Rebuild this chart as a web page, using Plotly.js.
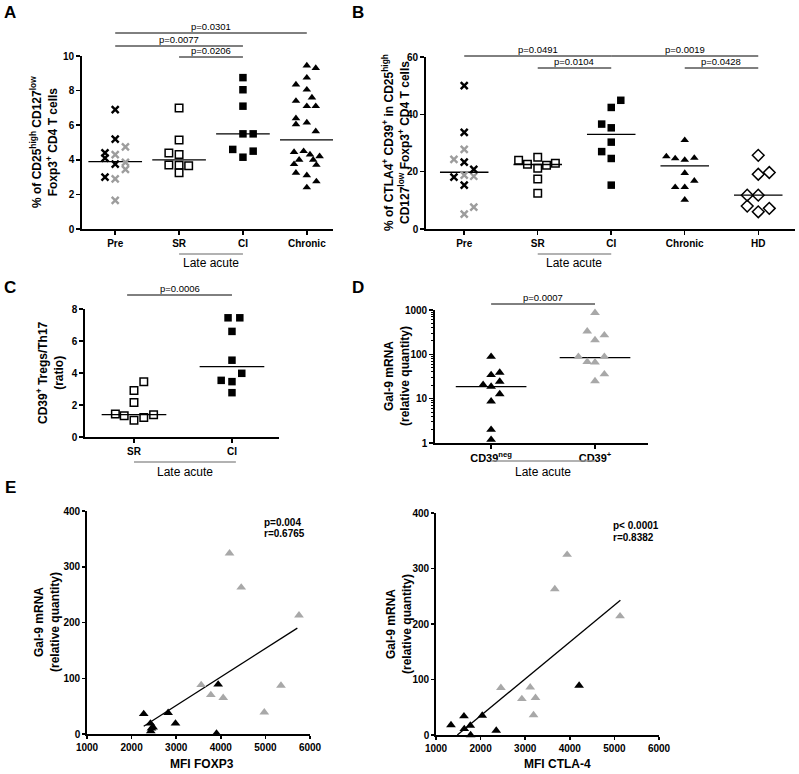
<!DOCTYPE html>
<html>
<head>
<meta charset="utf-8">
<script src="https://cdn.plot.ly/plotly-3.0.1.min.js"></script>
<style>
  html, body { margin: 0; padding: 0; background: #fff; }
  #fig { width: 799px; height: 774px; }
</style>
</head>
<body>
<div id="fig"></div>
<script>
// ---- A: % CD25high CD127low Foxp3+ of CD4 T cells ----
const aCats = ['Pre', 'SR', 'CI', 'Chronic'];
const aPreBlackDx = [0, 0, -0.16, -0.16, 0, -0.16];
const aPreBlackY  = [6.9, 5.2, 4.4, 4.1, 3.75, 3.0];
const aPreGreyDx  = [0.16, 0, 0.16, 0.16, 0, 0];
const aPreGreyY   = [4.75, 4.3, 3.85, 3.45, 2.9, 1.65];
const aSrDx = [0, 0, -0.16, 0, -0.16, 0, 0.15, 0];
const aSrY  = [7.0, 5.15, 4.4, 4.3, 3.7, 3.68, 3.65, 3.25];
const aCiDx = [0, 0, 0, 0, 0.16, -0.16, 0.16, 0];
const aCiY  = [8.75, 8.05, 7.1, 5.5, 5.5, 4.6, 4.5, 4.15];
const aChrDx = [0, 0.14, 0, -0.17, 0, 0.08, -0.17, 0, 0.14, -0.17, 0, -0.17, 0.14,
                -0.2, -0.05, 0.05, 0.2, -0.12, 0.1, -0.2, 0.15, -0.17, 0, 0.15, 0];
const aChrY  = [9.45, 9.3, 8.75, 8.35, 8.05, 7.6, 7.4, 7.1, 7.1, 6.4, 6.15, 6.05, 5.65,
                4.45, 4.5, 4.3, 4.2, 4.0, 4.0, 3.75, 3.7, 3.25, 3.1, 2.75, 2.4];
const aMedians = [3.9, 4.0, 5.5, 5.15];

// ---- B: % CTLA4+ CD39+ in Tregs ----
const bCats = ['Pre', 'SR', 'CI', 'Chronic', 'HD'];
const bPreBlackDx = [0, 0, 0, 0.13, -0.14, 0];
const bPreBlackY  = [50.0, 33.7, 23.3, 20.8, 18.1, 15.3];
const bPreGreyDx  = [0, -0.14, 0, 0.13, 0.13, 0];
const bPreGreyY   = [27.8, 24.3, 18.8, 18.4, 7.6, 5.2];
const bSrDx = [-0.26, -0.14, 0, 0, 0.12, 0.24, 0, 0];
const bSrY  = [24.0, 22.6, 25.0, 21.2, 22.2, 22.9, 17.4, 12.5];
const bCiDx = [0.13, 0, -0.13, 0, 0, -0.13, 0, 0];
const bCiY  = [44.9, 42.4, 36.6, 35.3, 30.3, 27.0, 24.6, 15.3];
const bChrDx = [0, -0.25, -0.13, 0, 0.13, 0, 0.13, -0.13, 0, 0];
const bChrY  = [31.0, 25.3, 24.6, 24.1, 24.8, 19.5, 16.8, 14.6, 14.6, 10.2];
const bHdDx = [0, 0, 0.15, -0.15, 0, -0.15, 0.15, 0];
const bHdY  = [25.7, 19.1, 19.7, 11.8, 11.8, 8.0, 7.2, 6.0];
const bMedians = [19.8, 22.5, 33.0, 22.0, 11.8];

// ---- C: CD39+ Tregs / Th17 ratio ----
const cCats = ['SR', 'CI'];
const cSrDx = [0.1, 0, 0, -0.19, -0.1, 0, 0.1, 0.2];
const cSrY  = [3.46, 2.9, 2.15, 1.43, 1.33, 1.04, 1.22, 1.39];
const cCiDx = [-0.04, 0.08, 0, 0, 0.1, -0.11, 0, 0];
const cCiY  = [7.45, 7.45, 6.6, 4.8, 3.98, 3.54, 3.46, 2.77];
const cMedians = [1.4, 4.4];

// ---- D: Gal-9 mRNA (log) ----
const dCats = ['CD39<sup>neg</sup>', 'CD39<sup>+</sup>'];
const dNegDx = [0, 0, 0.083, 0.083, -0.077, 0, 0.083, 0, 0, 0];
const dNegY  = [88.6, 34.4, 38.7, 24.3, 20.5, 18.7, 12.7, 8.7, 2.0, 1.19];
const dPosDx = [0, -0.075, 0.09, 0, -0.16, -0.075, 0, 0.09, 0.09, 0];
const dPosY  = [863, 330, 270, 210, 88.6, 68, 66, 88.6, 35.6, 25];
const dMedians = [18.7, 84];

// ---- E: Gal-9 mRNA vs MFI ----
const eFoxBlackX = [2272, 2422, 2445, 2482, 2430, 2819, 2984, 3941, 3904];
const eFoxBlackY = [36, 19, 10, 12, 5, 38, 19, 89, 1];
const eFoxGreyX  = [4196, 4458, 5753, 3560, 3777, 4054, 5349, 4975];
const eFoxGreyY  = [324, 263, 213, 88, 70, 65, 87, 39];
const eFoxFitX = [2272, 5716];
const eFoxFitY = [14, 190];

const eCtlaBlackX = [1336, 1627, 1634, 1769, 1776, 2037, 2351, 4209];
const eCtlaBlackY = [18, 34, 11, 17, 0, 35, 8, 89];
const eCtlaGreyX  = [3940, 3664, 5127, 2455, 3112, 2925, 3231, 3187];
const eCtlaGreyY  = [325, 263, 214, 85, 86, 65, 67, 36];
const eCtlaFitX = [1478, 5134];
const eCtlaFitY = [0, 243];

const W = 799, H = 774;
const FONT = 'Arial, "Liberation Sans", Helvetica, sans-serif';
const GREY = '#9d9d9d';
const px = v => v / W;          // pixel -> paper x
const py = v => 1 - v / H;      // pixel -> paper y

// marker styles
const crossBlack = { symbol: 'x-thin', size: 7, color: '#000', line: { width: 2.4, color: '#000' } };
const crossGrey  = { symbol: 'x-thin', size: 7, color: GREY, line: { width: 2.4, color: GREY } };
const sqOpen  = { symbol: 'square-open', size: 7.5, color: '#000', line: { width: 1.5 } };
const sqFill  = { symbol: 'square', size: 7.5, color: '#000' };
const triBlack = { symbol: 'triangle-up', size: 7.5, color: '#000' };
const triBlackE = { symbol: 'triangle-up', size: 8.5, color: '#000' };
const triGrey  = { symbol: 'triangle-up', size: 8.5, color: '#a8a8a8' };
const diaOpen = { symbol: 'diamond-open', size: 9, color: '#000', line: { width: 1.5 } };

function pts(xa, ya, cat, dx, y, marker) {
    return { type: 'scatter', mode: 'markers', x: dx.map(d => cat + d), y: y,
             xaxis: xa, yaxis: ya, marker: marker, cliponaxis: false, hoverinfo: 'skip' };
}
function xy(xa, ya, x, y, marker) {
    return { type: 'scatter', mode: 'markers', x: x, y: y,
             xaxis: xa, yaxis: ya, marker: marker, cliponaxis: false, hoverinfo: 'skip' };
}
function medians(xa, ya, meds, hw) {
    return meds.map((m, i) => ({ type: 'scatter', mode: 'lines', x: [i - hw, i + hw], y: [m, m],
        xaxis: xa, yaxis: ya, line: { color: '#000', width: 1.3 }, hoverinfo: 'skip' }));
}

const traces = [
    ...medians('x', 'y', aMedians, 0.42),
    pts('x', 'y', 0, aPreGreyDx, aPreGreyY, crossGrey),
    pts('x', 'y', 0, aPreBlackDx, aPreBlackY, crossBlack),
    pts('x', 'y', 1, aSrDx, aSrY, sqOpen),
    pts('x', 'y', 2, aCiDx, aCiY, sqFill),
    pts('x', 'y', 3, aChrDx, aChrY, triBlack),

    ...medians('x2', 'y2', bMedians, 0.33),
    pts('x2', 'y2', 0, bPreGreyDx, bPreGreyY, crossGrey),
    pts('x2', 'y2', 0, bPreBlackDx, bPreBlackY, crossBlack),
    pts('x2', 'y2', 1, bSrDx, bSrY, sqOpen),
    pts('x2', 'y2', 2, bCiDx, bCiY, sqFill),
    pts('x2', 'y2', 3, bChrDx, bChrY, triBlack),
    pts('x2', 'y2', 4, bHdDx, bHdY, diaOpen),

    ...medians('x3', 'y3', cMedians, 0.33),
    pts('x3', 'y3', 0, cSrDx, cSrY, sqOpen),
    pts('x3', 'y3', 1, cCiDx, cCiY, sqFill),

    ...medians('x4', 'y4', dMedians, 0.34),
    pts('x4', 'y4', 0, dNegDx, dNegY, triBlackE),
    pts('x4', 'y4', 1, dPosDx, dPosY, triGrey),

    { type: 'scatter', mode: 'lines', x: eFoxFitX, y: eFoxFitY, xaxis: 'x5', yaxis: 'y5',
      line: { color: '#000', width: 1.3 }, hoverinfo: 'skip' },
    xy('x5', 'y5', eFoxGreyX, eFoxGreyY, triGrey),
    xy('x5', 'y5', eFoxBlackX, eFoxBlackY, triBlackE),

    { type: 'scatter', mode: 'lines', x: eCtlaFitX, y: eCtlaFitY, xaxis: 'x6', yaxis: 'y6',
      line: { color: '#000', width: 1.3 }, hoverinfo: 'skip' },
    xy('x6', 'y6', eCtlaGreyX, eCtlaGreyY, triGrey),
    xy('x6', 'y6', eCtlaBlackX, eCtlaBlackY, triBlackE)
];

const axBase = {
    showgrid: false, zeroline: false, showline: true, linecolor: '#000', linewidth: 1.8,
    ticks: 'outside', ticklen: 4, tickwidth: 1.5, tickcolor: '#000',
    tickfont: { family: FONT, size: 10, color: '#000', weight: 'bold' }, fixedrange: true
};

// minor ticks on the log axis of D
const logMinor = [];
[1, 10, 100].forEach(dec => { for (let k = 2; k <= 9; k++) logMinor.push(k * dec); });

const layout = {
    width: W, height: H,
    margin: { l: 0, r: 0, t: 0, b: 0 },
    paper_bgcolor: '#fff', plot_bgcolor: 'rgba(0,0,0,0)',
    showlegend: false,
    font: { family: FONT, color: '#000' },

    xaxis:  { ...axBase, anchor: 'y',  domain: [px(82), px(333)], range: [-0.52, 3.41], tickvals: [0, 1, 2, 3], ticktext: aCats },
    yaxis:  { ...axBase, anchor: 'x',  domain: [py(229), py(56)], range: [0, 10], dtick: 2 },
    xaxis2: { ...axBase, anchor: 'y2', domain: [px(426), px(795)], range: [-0.52, 4.5], tickvals: [0, 1, 2, 3, 4], ticktext: bCats },
    yaxis2: { ...axBase, anchor: 'x2', domain: [py(229), py(57)], range: [0, 60], dtick: 20 },
    xaxis3: { ...axBase, anchor: 'y3', domain: [px(85), px(279)], range: [-0.5, 1.48], tickvals: [0, 1], ticktext: cCats },
    yaxis3: { ...axBase, anchor: 'x3', domain: [py(437), py(309)], range: [0, 8], dtick: 2 },
    xaxis4: { ...axBase, anchor: 'y4', domain: [px(435), px(648)], range: [-0.54, 1.51], tickvals: [0, 1], ticktext: dCats,
              tickfont: { family: FONT, size: 11, color: '#000', weight: 'bold' } },
    yaxis4: { ...axBase, anchor: 'x4', domain: [py(443), py(310)], type: 'log', range: [0, 3],
              tickmode: 'array', tickvals: [1, 10, 100, 1000], ticktext: ['1', '10', '100', '1000'],
              minor: { tickmode: 'array', tickvals: logMinor, ticks: 'outside', ticklen: 2.5, tickwidth: 1, tickcolor: '#000', showgrid: false } },
    xaxis5: { ...axBase, anchor: 'y5', domain: [px(87), px(310)], range: [1000, 6000], dtick: 1000, ticklen: 3 },
    yaxis5: { ...axBase, anchor: 'x5', domain: [py(734), py(511)], range: [0, 400], dtick: 100, ticklen: 3 },
    xaxis6: { ...axBase, anchor: 'y6', domain: [px(436), px(659)], range: [1000, 6000], dtick: 1000, ticklen: 3 },
    yaxis6: { ...axBase, anchor: 'x6', domain: [py(735), py(513)], range: [0, 400], dtick: 100, ticklen: 3 },

    shapes: [],
    annotations: []
};

// helper for free text placed by its centre in page pixels
function label(x, y, text, font, extra) {
    layout.annotations.push(Object.assign({ xref: 'paper', yref: 'paper', x: px(x), y: py(y),
        xanchor: 'center', yanchor: 'middle', text: text, showarrow: false, font: font }, extra || {}));
}

// significance brackets: x in category units, y in page pixels
const brackets = [
    { xa: 'x',  x0: 0, x1: 3, y: 33, text: 'p=0.0301' },
    { xa: 'x',  x0: 0, x1: 2, y: 46, text: 'p=0.0077' },
    { xa: 'x',  x0: 1, x1: 2, y: 57, text: 'p=0.0206' },
    { xa: 'x2', x0: 0, x1: 2, y: 56, text: 'p=0.0491' },
    { xa: 'x2', x0: 2, x1: 4, y: 56, text: 'p=0.0019' },
    { xa: 'x2', x0: 1, x1: 2, y: 68, text: 'p=0.0104' },
    { xa: 'x2', x0: 3, x1: 4, y: 68, text: 'p=0.0428' },
    { xa: 'x3', x0: -0.07, x1: 1, y: 295, text: 'p=0.0006' },
    { xa: 'x4', x0: 0, x1: 1, y: 304, text: 'p=0.0007' }
];
brackets.forEach(b => {
    layout.shapes.push({ type: 'line', xref: b.xa, yref: 'paper', x0: b.x0, x1: b.x1,
        y0: py(b.y), y1: py(b.y), line: { color: '#000', width: 1 } });
    layout.annotations.push({ xref: b.xa, yref: 'paper', x: (b.x0 + b.x1) / 2, y: py(b.y),
        xanchor: 'center', yanchor: 'bottom', text: b.text, showarrow: false, borderpad: 0,
        font: { family: FONT, size: 9.5, color: '#000' } });
});

// "Late acute" group labels
const groups = [
    { xa: 'x',  x0: 1, x1: 2, line: 254, text: 263 },
    { xa: 'x2', x0: 1, x1: 2, line: 254, text: 263 },
    { xa: 'x3', x0: 0, x1: 1.04, line: 462, text: 472 },
    { xa: 'x4', x0: 0, x1: 1, line: 461, text: 472 }
];
groups.forEach(g => {
    layout.shapes.push({ type: 'line', xref: g.xa, yref: 'paper', x0: g.x0, x1: g.x1,
        y0: py(g.line), y1: py(g.line), line: { color: '#999', width: 1.5 } });
    layout.annotations.push({ xref: g.xa, yref: 'paper', x: (g.x0 + g.x1) / 2, y: py(g.text),
        xanchor: 'center', yanchor: 'middle', text: 'Late acute', showarrow: false,
        font: { family: FONT, size: 12, color: '#000' } });
});

const boldFont = size => ({ family: FONT, size: size, color: '#000', weight: 'bold' });

// y axis titles (rotated, two lines)
label(44,  142, '% of CD25<sup>high</sup> CD127<sup>low</sup><br>Foxp3<sup>+</sup> CD4 T cells', boldFont(12), { textangle: -90 });
label(396, 143, '% of CTLA4<sup>+</sup> CD39<sup>+</sup> in CD25<sup>high</sup><br>CD127<sup>low</sup> Foxp3<sup>+</sup> CD4 T cells', boldFont(12), { textangle: -90 });
label(50,  373, 'CD39<sup>+</sup> Tregs/Th17<br>(ratio)', boldFont(12), { textangle: -90 });
label(397, 376, 'Gal-9 mRNA<br>(relative quantity)', boldFont(12), { textangle: -90 });
label(47,  622, 'Gal-9 mRNA<br>(relative quantity)', boldFont(12), { textangle: -90 });
label(399, 624, 'Gal-9 mRNA<br>(relative quantity)', boldFont(12), { textangle: -90 });

// x axis titles of E
label(202, 764, 'MFI FOXP3', boldFont(12));
label(557, 764, 'MFI CTLA-4', boldFont(12));

// correlation stats
label(262, 522, 'p=0.004', boldFont(10), { xanchor: 'left' });
label(262, 533, 'r=0.6765', boldFont(10), { xanchor: 'left' });
label(611, 525, 'p&lt; 0.0001', boldFont(10), { xanchor: 'left' });
label(611, 537, 'r=0.8382', boldFont(10), { xanchor: 'left' });

// panel letters
[['A', 10, 13], ['B', 358, 13], ['C', 10, 287], ['D', 358, 287], ['E', 10, 487]].forEach(([t, x, y]) =>
    label(x, y, t, boldFont(17)));

Plotly.newPlot('fig', traces, layout, { staticPlot: true, displayModeBar: false });
</script>
</body>
</html>
